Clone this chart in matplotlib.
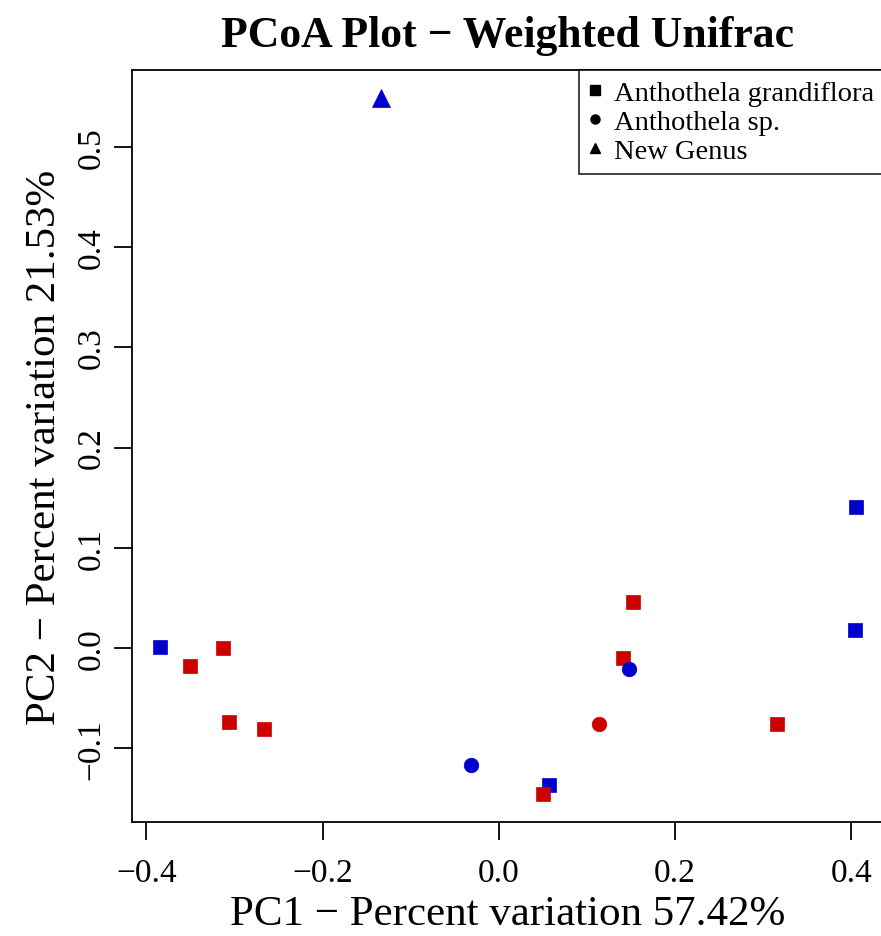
import matplotlib
matplotlib.use("Agg")
import matplotlib.pyplot as plt
from matplotlib.lines import Line2D
from matplotlib.ticker import FuncFormatter

# PCoA coordinates
pc1 = [-0.385, 0.405, 0.404, 0.057,
       -0.351, -0.313, -0.306, -0.267, 0.152, 0.141, 0.315, 0.050,
       -0.032, 0.148,
       0.114,
       -0.134]
pc2 = [0.001, 0.141, 0.018, -0.137,
       -0.018, 0.000, -0.074, -0.081, 0.046, -0.010, -0.076, -0.146,
       -0.117, -0.021,
       -0.076,
       0.549]
species = ["Anthothela grandiflora"] * 12 + ["Anthothela sp."] * 3 + ["New Genus"]
group = ["b", "b", "b", "b",
         "r", "r", "r", "r", "r", "r", "r", "r",
         "b", "b",
         "r",
         "b"]

species_order = ["Anthothela grandiflora", "Anthothela sp.", "New Genus"]
markers = {"Anthothela grandiflora": "s", "Anthothela sp.": "o", "New Genus": "^"}
msize = {"Anthothela grandiflora": 10, "Anthothela sp.": 10.5, "New Genus": 13}
colours = {"b": "#0000CD", "r": "#CD0000"}

xticks = [-0.4, -0.2, 0.0, 0.2, 0.4]
yticks = [-0.1, 0.0, 0.1, 0.2, 0.3, 0.4, 0.5]

plt.rcParams['font.family'] = ['Liberation Serif', 'DejaVu Serif']

W, H = 881, 937
fig = plt.figure(figsize=(W / 100, H / 100), dpi=100)
# axes box in pixels; the right edge runs just past the picture like the original
left, right, top, bottom = 131.7, 883.7, 70.7, 823.3
ax = fig.add_axes([left / W, 1 - bottom / H, (right - left) / W, (bottom - top) / H])

for sp in species_order:
    for g in ["b", "r"]:
        xs = [x for x, s, gg in zip(pc1, species, group) if s == sp and gg == g]
        ys = [y for y, s, gg in zip(pc2, species, group) if s == sp and gg == g]
        if xs:
            ax.plot(xs, ys, linestyle="none", marker=markers[sp], ms=msize[sp],
                    color=colours[g], mec=colours[g], mew=0.5)

# R style 4% padding
ax.margins(0.04)

ax.set_xticks(xticks)
ax.set_yticks(yticks)
minus = FuncFormatter(lambda v, p: f"{v:.1f}".replace("-", "\u2212"))
ax.xaxis.set_major_formatter(minus)
ax.yaxis.set_major_formatter(minus)
ax.tick_params(axis="both", direction="out", length=13, width=1.3, labelsize=24)
ax.tick_params(axis="x", pad=12)
ax.tick_params(axis="y", pad=5)
for lab in ax.get_yticklabels():
    lab.set_rotation(90)
    lab.set_va("center")

for sp in ax.spines.values():
    sp.set_linewidth(1.3)

ax.set_xlabel("PC1 \u2212 Percent variation 57.42%", fontsize=31, labelpad=5)
ax.set_ylabel("PC2 \u2212 Percent variation 21.53%", fontsize=31, labelpad=9)
ax.set_title("PCoA Plot \u2212 Weighted Unifrac", fontsize=31.5, fontweight="bold", pad=17)

handles = [Line2D([], [], linestyle="none", marker=markers[s], color="black", ms=6.5)
           for s in species_order]
leg = ax.legend(handles, species_order, loc="upper right", fontsize=20.5,
                frameon=True, fancybox=False, borderaxespad=0, handlelength=0.4,
                handletextpad=0.45, labelspacing=0.12, borderpad=0.35)
leg.get_frame().set_edgecolor("black")
leg.get_frame().set_linewidth(1.3)

fig.savefig("out.png", dpi=100)
